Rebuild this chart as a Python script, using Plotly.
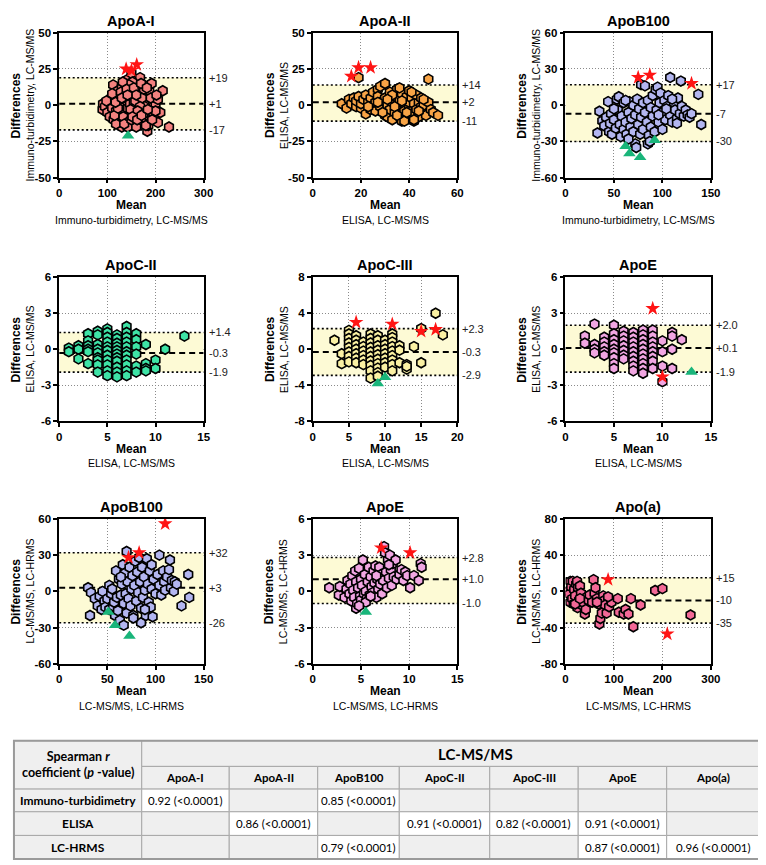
import plotly.graph_objects as go

# ---------------- DATA ----------------
titles = ["ApoA-I", "ApoA-II", "ApoB100", "ApoC-II", "ApoC-III", "ApoE", "ApoB100", "ApoE", "Apo(a)"]
method_labels = ["Immuno-turbidimetry, LC-MS/MS", "ELISA, LC-MS/MS", "Immuno-turbidimetry, LC-MS/MS",
                 "ELISA, LC-MS/MS", "ELISA, LC-MS/MS", "ELISA, LC-MS/MS",
                 "LC-MS/MS, LC-HRMS", "LC-MS/MS, LC-HRMS", "LC-MS/MS, LC-HRMS"]
bias = [1, 2, -7, -0.3, -0.3, 0.1, 3, 1.0, -10]
upper_loa = [19, 14, 17, 1.4, 2.3, 2.0, 32, 2.8, 15]
lower_loa = [-17, -11, -30, -1.9, -2.9, -1.9, -26, -1.0, -35]
bias_text = ["+1", "+2", "-7", "-0.3", "-0.3", "+0.1", "+3", "+1.0", "-10"]
upper_text = ["+19", "+14", "+17", "+1.4", "+2.3", "+2.0", "+32", "+2.8", "+15"]
lower_text = ["-17", "-11", "-30", "-1.9", "-2.9", "-1.9", "-26", "-1.0", "-35"]
x_max = [300, 60, 150, 15, 20, 15, 150, 15, 300]
x_step = [100, 20, 50, 5, 5, 5, 50, 5, 100]
y_max = [50, 50, 60, 6, 8, 6, 60, 6, 80]
y_step = [25, 25, 30, 3, 4, 3, 30, 3, 40]
colors = ["#f4827f", "#f8a446", "#b3b6f0", "#3ee3a6", "#fbf1a3", "#f1a6e2", "#b3b6f0", "#f1a6e2", "#f26896"]

apoa1_pts = [(90,-3),(91,1),(95,-1),(100,-5),(103,2),(105,-8),(108,5),(110,-2),(112,14),(113,-10),(115,8),(118,-4),
             (120,3),(120,-12),(122,10),(125,-6),(125,6),(128,0),(130,-15),(130,12),(132,-3),(135,8),(135,-9),(137,3),
             (138,15),(140,-13),(140,5),(142,-2),(143,18),(145,10),(145,-7),(147,1),(148,-14),(150,22),(150,6),(152,-4),
             (153,13),(155,-10),(155,2),(157,8),(158,-6),(160,17),(160,0),(162,-13),(163,11),(165,4),(165,-8),(168,19),
             (170,-2),(170,9),(172,-11),(175,14),(175,1),(178,-5),(180,7),(180,-9),(183,-18),(185,-14),(185,3),(187,10),
             (190,-3),(192,15),(195,0),(198,-7),(200,1),(205,-12),(210,-5),(215,10),(228,-15),(125,-1),(133,-8),(138,9),
             (146,-11),(152,16),(158,3),(166,13),(172,5),(178,-1),(188,-8),(195,-5),(118,-13),(127,4),(142,-15),
             (160,-15),(168,-1),(176,11),(145,14),(132,16),(110,8),(98,3),(115,-7),(122,-2),(128,9),(135,-13),
             (140,11),(148,-3),(150,-10),(155,12),(160,7),(163,-4),(170,15),(175,-6),(180,-14),(182,12),(190,5),
             (193,-10),(200,-4),(205,4),(117,2),(130,5),(142,7),(152,-8),(162,-10),(171,-7),(184,-3),(202,7)]
apoa1_star = [(139,25),(161,28),(150,24)]
apoa1_tri = [(143,-21)]

apoa2_pts = [(12,1),(14,-2),(15,4),(16,1),(17,5),(18,-1),(18,3),(19,19),(19,6),(20,-2),(20,1),(21,4),(22,-6),(22,7),
             (23,2),(24,-3),(24,5),(25,9),(25,0),(26,-4),(26,2),(27,11),(27,6),(28,-1),(28,13),(29,3),(30,15),(30,-7),
             (30,5),(31,0),(31,-8),(32,9),(32,-3),(33,2),(33,-10),(34,6),(34,-5),(35,11),(35,0),(36,-8),(36,4),(37,-11),
             (37,8),(38,1),(38,-4),(39,6),(39,-9),(40,10),(40,-2),(40,2),(41,-6),(41,5),(42,-11),(42,1),(43,-3),(43,7),
             (44,2),(44,-8),(45,5),(45,-1),(46,0),(47,-7),(48,18),(48,2),(49,-3),(50,-5),(52,-7),(36,12),(29,-5),
             (23,-1),(38,-11),(42,-10),(33,7),(27,2),(31,4),(34,-1),(37,3),(39,-5),(41,9),(44,-4),(46,4),(35,-7)]
apoa2_star = [(16,20),(19,26),(24,26)]
apoa2_tri = []

apob_it_pts = [(33,-23),(35,-5),(38,-13),(40,-17),(42,-10),(44,3),(45,-22),(46,-15),(47,-7),(48,-24),(50,-12),(52,-19),
               (53,5),(54,-4),(55,7),(56,-16),(57,-26),(58,-9),(60,-20),(60,2),(62,-14),(63,-24),(65,-6),(66,3),(67,-18),
               (68,-11),(70,0),(70,-22),(72,-32),(72,-8),(74,5),(75,-16),(76,-3),(77,-24),(78,17),(78,-10),(80,2),(80,-20),
               (82,16),(82,-6),(84,-14),(85,-32),(85,4),(86,-25),(88,-2),(88,-18),(90,8),(90,-9),(92,-22),(93,13),(94,-4),
               (95,15),(96,-14),(97,2),(98,10),(100,-6),(100,-20),(102,4),(103,-12),(105,-1),(106,8),(108,23),(108,-8),
               (110,-14),(112,2),(113,-4),(115,-11),(116,6),(118,-7),(119,20),(120,-1),(122,-9),(124,-4),(126,-8),
               (128,-10),(130,-7),(137,9),(140,-16),(73,-35),(62,4),(87,-30),(96,-8),(104,-3),(110,5),(115,-15),(65,-28),
               (50,-3)]
apob_it_star = [(75,23),(87,25),(130,18)]
apob_it_tri = [(62,-34),(66,-40),(77,-43),(92,-29)]

apoc2_pts = [(1,0.1),(1,-0.2),(2,0.3),(2,0.0),(2,-0.8),
             (3,1.3),(3,0.7),(3,0.3),(3,0.0),(3,-0.2),(3,-1.2),
             (4,1.5),(4,1.2),(4,0.4),(4,0.0),(4,-0.3),(4,-0.7),(4,-0.9),(4,-1.3),(4,-1.9),
             (5,1.7),(5,1.4),(5,1.0),(5,0.6),(5,0.2),(5,-0.1),(5,-0.5),(5,-0.9),(5,-1.3),(5,-1.8),(5,-2.2),
             (6,1.2),(6,0.9),(6,0.5),(6,0.2),(6,-0.1),(6,-0.4),(6,-0.7),(6,-1.0),(6,-1.5),(6,-1.9),(6,-2.3),
             (7,1.9),(7,1.4),(7,1.0),(7,0.6),(7,0.2),(7,-0.2),(7,-0.5),(7,-0.9),(7,-1.3),(7,-1.8),(7,-2.2),
             (8,1.3),(8,0.8),(8,0.2),(8,-0.4),(8,-1.4),(8,-1.9),
             (9,0.4),(9,-1.2),(9,-1.6),(9,-1.8),(10,-0.9),(10,-1.6),(11,0.0),(13,1.1)]
apoc2_star = []
apoc2_tri = []

apoc3_pts = [(3,1.0),(4,-0.5),(4,-1.6),
             (5,2.1),(5,1.7),(5,1.2),(5,0.7),(5,0.2),(5,-0.3),(5,-0.8),(5,-1.4),
             (6,1.5),(6,1.0),(6,0.5),(6,0.0),(6,-0.5),(6,-1.0),(6,-1.5),
             (7,0.8),(7,0.3),(7,-0.2),(7,-0.7),(7,-1.2),(7,-1.7),
             (8,1.7),(8,1.2),(8,0.7),(8,0.2),(8,-0.3),(8,-0.8),(8,-1.3),(8,-1.8),(8,-2.4),(8,-3.2),
             (9,1.5),(9,1.0),(9,0.4),(9,-0.1),(9,-0.6),(9,-1.1),(9,-1.6),(9,-2.1),(9,-2.6),(9,-3.0),
             (10,1.0),(10,0.5),(10,0.0),(10,-0.5),(10,-1.0),(10,-1.5),(10,-2.0),
             (11,1.7),(11,1.3),(11,0.8),(11,0.3),(11,-0.2),(11,-0.7),(11,-1.2),(11,-1.7),(11,-2.4),
             (12,0.4),(12,-0.1),(12,-1.5),(13,-1.7),(13,-2.2),(13,-1.9),(14,0.3),(15,2.3),(15,-1.5),(17,4.0),(18,1.6)]
apoc3_star = [(6,3.0),(11,2.8),(15,2.0),(17,2.2)]
apoc3_tri = [(9,-3.8),(10,-3.1)]

apoe_el_pts = [(2,1.1),(2,0.5),(3,2.1),(3,0.4),(3,0.0),(3,-0.3),
               (4,1.0),(4,0.6),(4,0.2),(4,-0.2),(4,-0.5),
               (5,2.0),(5,1.3),(5,0.8),(5,0.4),(5,0.0),(5,-0.3),(5,-0.7),(5,-1.2),(5,-1.6),
               (6,1.5),(6,1.1),(6,0.7),(6,0.3),(6,-0.1),(6,-0.5),(6,-0.8),
               (7,1.4),(7,1.0),(7,0.6),(7,0.2),(7,-0.2),(7,-0.6),(7,-1.0),(7,-1.4),(7,-1.8),
               (8,1.6),(8,1.2),(8,0.8),(8,0.4),(8,0.0),(8,-0.4),(8,-0.8),(8,-1.2),(8,-1.6),(8,-2.0),
               (9,1.6),(9,1.1),(9,0.6),(9,0.2),(9,-0.2),(9,-0.6),(9,-1.0),(9,-1.6),
               (10,0.7),(10,-0.2),(10,-1.4),(10,-2.7),(11,1.4),(11,1.1),(11,0.0),(11,-1.6),(12,0.8)]
apoe_el_star = [(9,3.4),(10,-2.3)]
apoe_el_tri = [(13,-1.9)]

apob_hr_pts = [(30,3),(32,-20),(33,-1),(37,-6),(40,-12),(42,-4),(44,-15),(45,0),(47,-8),(48,-13),(50,-6),(52,5),
               (52,-15),(54,-2),(55,2),(56,-12),(57,-9),(58,-20),(59,17),(60,-5),(61,-16),(62,10),(63,-24),(64,-3),
               (65,6),(66,22),(67,-28),(67,-10),(68,15),(69,-2),(70,33),(70,-18),(71,8),(72,-6),(73,20),(74,-12),(75,2),
               (76,13),(77,-20),(78,5),(79,25),(80,-8),(81,16),(82,-1),(83,28),(84,8),(85,-26),(85,-14),(86,20),(87,-5),
               (88,12),(89,1),(90,-20),(91,27),(92,6),(93,-9),(94,17),(95,-13),(96,2),(97,-21),(98,10),(100,-2),(102,14),
               (104,30),(104,5),(106,-3),(108,17),(109,8),(110,1),(112,12),(114,18),(115,26),(116,3),(117,9),(119,0),
               (120,8),(122,6),(127,-12),(134,14),(135,-5),(77,-22),(64,12),(89,-15),(96,22)]
apob_hr_star = [(110,56),(72,28),(83,32)]
apob_hr_tri = [(58,-28),(73,-37),(51,-17)]

apoe_hr_pts = [(1.7,0.3),(2.7,-0.3),(2.8,0.4),(3.3,-0.5),(3.5,0.2),(3.6,0.9),(3.8,-0.2),(3.9,0.6),(4.0,-0.8),
               (4.1,1.3),(4.2,0.1),(4.3,-0.5),(4.4,1.7),(4.5,-1.4),(4.5,0.8),(4.6,-1.0),(4.7,0.3),(4.8,1.9),(4.9,-0.4),
               (5.0,1.0),(5.0,-0.7),(5.1,0.5),(5.2,2.6),(5.3,-0.2),(5.4,1.4),(5.5,0.0),(5.6,-0.6),(5.7,0.8),(5.8,2.0),
               (5.9,-0.3),(6.0,1.2),(6.1,0.4),(6.2,-0.1),(6.3,1.7),(6.4,0.7),(6.5,2.1),(6.6,-0.5),(6.7,1.0),(6.8,0.2),
               (6.9,2.0),(7.0,0.6),(7.1,1.4),(7.2,-0.2),(7.3,0.9),(7.4,3.7),(7.5,3.2),(7.6,1.6),(7.7,0.3),(7.8,2.6),
               (7.9,1.1),(8.0,3.0),(8.1,1.8),(8.2,0.5),(8.3,2.3),(8.4,1.2),(8.6,2.6),(8.7,1.0),(9.0,1.4),(9.2,1.8),
               (9.4,0.9),(9.6,1.6),(9.8,1.3),(10.1,0.3),(10.5,1.3),(11.0,0.9),(11.2,2.3),(11.3,2.0),(5.5,-0.9),
               (6.0,-0.4),(4.8,-1.2),(6.6,1.3),(7.9,2.2)]
apoe_hr_star = [(7.1,3.6),(10.1,3.2)]
apoe_hr_tri = [(5.5,-1.7)]

apoa_pts = [(5,0),(8,-3),(10,11),(10,-12),(12,5),(14,-8),(15,11),(17,-14),(18,2),(20,-5),(22,8),(24,11),(25,-18),
            (26,4),(28,-10),(30,6),(32,-2),(34,-15),(36,-12),(40,-25),(42,-20),(45,-6),(48,-10),(50,-4),(55,-12),
            (58,13),(60,-2),(62,4),(65,-8),(68,-14),(70,-36),(72,-30),(75,-24),(78,-5),(80,-10),(82,-15),(85,-24),
            (90,-17),(95,-12),(108,-8),(110,-23),(120,-25),(124,-20),(130,-25),(135,-8),(140,-39),(155,-15),(185,1),
            (200,3),(258,-26),(20,-14),(30,-8),(65,-12),(88,-6)]
apoa_star = [(88,13),(210,-47)]
apoa_tri = []

table_methods = ["Immuno-turbidimetry", "ELISA", "LC-HRMS"]
table_proteins = ["ApoA-I", "ApoA-II", "ApoB100", "ApoC-II", "ApoC-III", "ApoE", "Apo(a)"]
immuno_r = ["0.92 (<0.0001)", "", "0.85 (<0.0001)", "", "", "", ""]
elisa_r = ["", "0.86 (<0.0001)", "", "0.91 (<0.0001)", "0.82 (<0.0001)", "0.91 (<0.0001)", ""]
hrms_r = ["", "", "0.79 (<0.0001)", "", "", "0.87 (<0.0001)", "0.96 (<0.0001)"]

# ---------------- LAYOUT ----------------
W, H = 766, 865
FONT = "Liberation Sans"
TFONT = "Lato"
col_px = [(49, 196), (307, 454), (564, 712)]
row_px = [(19, 166), (267, 413), (512, 659)]

points = [apoa1_pts, apoa2_pts, apob_it_pts, apoc2_pts, apoc3_pts, apoe_el_pts, apob_hr_pts, apoe_hr_pts, apoa_pts]
stars = [apoa1_star, apoa2_star, apob_it_star, apoc2_star, apoc3_star, apoe_el_star, apob_hr_star, apoe_hr_star, apoa_star]
tris = [apoa1_tri, apoa2_tri, apob_it_tri, apoc2_tri, apoc3_tri, apoe_el_tri, apob_hr_tri, apoe_hr_tri, apoa_tri]


def axn(n, letter):
    return letter if n == 1 else f"{letter}{n}"


fig = go.Figure()
layout = {}
shapes = []
annotations = []

for i in range(9):
    n = i + 1
    r, c = divmod(i, 3)
    xa, ya = axn(n, "x"), axn(n, "y")
    px = [p[0] for p in points[i]]
    py = [p[1] for p in points[i]]
    fig.add_trace(go.Scatter(x=px, y=py, mode="markers", xaxis=xa, yaxis=ya, showlegend=False, hoverinfo="skip",
                             marker=dict(symbol="hexagon", size=10, color=colors[i],
                                         line=dict(color="black", width=1.6))))
    if stars[i]:
        fig.add_trace(go.Scatter(x=[p[0] for p in stars[i]], y=[p[1] for p in stars[i]], mode="markers",
                                 xaxis=xa, yaxis=ya, showlegend=False, hoverinfo="skip",
                                 marker=dict(symbol="star", size=11, color="#ff1414", line=dict(width=0))))
    if tris[i]:
        fig.add_trace(go.Scatter(x=[p[0] for p in tris[i]], y=[p[1] for p in tris[i]], mode="markers",
                                 xaxis=xa, yaxis=ya, showlegend=False, hoverinfo="skip",
                                 marker=dict(symbol="triangle-up", size=11, color="#19b57a", line=dict(width=0))))

    x0, x1 = col_px[c]
    t0, b0 = row_px[r]
    common = dict(showline=True, linecolor="black", linewidth=1.5, mirror=True, ticks="outside", ticklen=4,
                  tickwidth=1.5, tickcolor="black", showgrid=True, gridcolor="#8a8a8a", griddash="1px,2px",
                  gridwidth=1, zeroline=False, fixedrange=True,
                  tickfont=dict(family=FONT, size=11.5, color="black", weight="bold"))
    xt = [k * x_step[i] for k in range(int(round(x_max[i] / x_step[i])) + 1)]
    nyt = int(round(y_max[i] / y_step[i]))
    yt = [k * y_step[i] for k in range(-nyt, nyt + 1)]
    layout["xaxis" + ("" if n == 1 else str(n))] = dict(domain=[x0 / W, x1 / W], anchor=ya,
                                                         range=[0, x_max[i]], tickmode="array", tickvals=xt,
                                                         ticktext=[f"{v:g}" for v in xt], **common)
    layout["yaxis" + ("" if n == 1 else str(n))] = dict(domain=[1 - b0 / H, 1 - t0 / H], anchor=xa,
                                                         range=[-y_max[i], y_max[i]], tickmode="array", tickvals=yt,
                                                         ticktext=[f"{v:g}" for v in yt], **common)
    xd = f"{xa} domain"
    yd = f"{ya} domain"
    # band and lines (drawn over the grid, under the markers)
    shapes.append(dict(type="rect", xref=xa, yref=ya, x0=0, x1=x_max[i], y0=lower_loa[i], y1=upper_loa[i],
                       fillcolor="#fdfad5", line=dict(width=0), layer="between"))
    for val in (upper_loa[i], lower_loa[i]):
        shapes.append(dict(type="line", xref=xa, yref=ya, x0=0, x1=x_max[i], y0=val, y1=val,
                           line=dict(color="black", width=1.6, dash="2px,2.5px"), layer="between"))
    shapes.append(dict(type="line", xref=xa, yref=ya, x0=0, x1=x_max[i], y0=bias[i], y1=bias[i],
                       line=dict(color="black", width=2, dash="6px,4px"), layer="between"))
    for val, txt in ((upper_loa[i], upper_text[i]), (bias[i], bias_text[i]), (lower_loa[i], lower_text[i])):
        annotations.append(dict(xref=xd, yref=ya, x=1, y=val, xanchor="left", yanchor="middle", xshift=3,
                                text=txt, showarrow=False, font=dict(family=FONT, size=11, color="#222222")))
    # title
    annotations.append(dict(xref=xd, yref=yd, x=0.5, y=1, yshift=12, xanchor="center", yanchor="middle",
                            text=titles[i], showarrow=False,
                            font=dict(family=FONT, size=14.5, color="black", weight="bold")))
    # x titles
    annotations.append(dict(xref=xd, yref=yd, x=0.5, y=0, yshift=-27.5, xanchor="center", yanchor="middle",
                            text="Mean", showarrow=False, borderpad=0,
                            font=dict(family=FONT, size=12, color="black", weight="bold")))
    annotations.append(dict(xref=xd, yref=yd, x=0.5, y=0, yshift=-42, xanchor="center", yanchor="middle",
                            text=method_labels[i], showarrow=False, borderpad=0,
                            font=dict(family=FONT, size=10.5, color="black")))
    # y titles
    annotations.append(dict(xref=xd, yref=yd, x=0, y=0.5, xshift=-43, xanchor="center", yanchor="middle",
                            textangle=-90, text="Differences", showarrow=False,
                            font=dict(family=FONT, size=12, color="black", weight="bold")))
    annotations.append(dict(xref=xd, yref=yd, x=0, y=0.5, xshift=-29, xanchor="center", yanchor="middle",
                            textangle=-90, text=method_labels[i], showarrow=False,
                            font=dict(family=FONT, size=10.5, color="black")))

# ---------------- TABLE ----------------
col_edges = [3, 133, 222, 312, 395, 487, 577, 667, 762]
row_edges = [737, 763, 786, 809, 833, 857]
GRAY = "#efefef"
BORDER = "#a8a8a8"


def cell(cx0, cx1, ry0, ry1, fill, text="", bold=False, size=11.5, xc=None):
    shapes.append(dict(type="rect", xref="paper", yref="paper",
                       x0=col_edges[cx0] / W, x1=col_edges[cx1] / W,
                       y0=1 - row_edges[ry1] / H, y1=1 - row_edges[ry0] / H,
                       fillcolor=fill, line=dict(color=BORDER, width=1), layer="below"))
    if text:
        xm = ((col_edges[cx0] + col_edges[cx1]) / 2 if xc is None else xc) / W
        ym = 1 - (row_edges[ry0] + row_edges[ry1]) / 2 / H
        annotations.append(dict(xref="paper", yref="paper", x=xm, y=ym, xanchor="center", yanchor="middle",
                                text=text, showarrow=False,
                                font=dict(family=TFONT, size=size, color="black",
                                          weight="bold" if bold else "normal")))


cell(0, 1, 0, 2, GRAY, "Spearman <i>r</i><br>coefficient (<i>p</i> -value)", bold=True, size=12.5)
cell(1, 8, 0, 1, GRAY, "LC-MS/MS", bold=True, size=15, xc=473)
for j, p in enumerate(table_proteins):
    cell(j + 1, j + 2, 1, 2, GRAY, p, bold=True, size=11.5)
for k, (m, vals) in enumerate(zip(table_methods, [immuno_r, elisa_r, hrms_r])):
    cell(0, 1, 2 + k, 3 + k, GRAY, m, bold=True, size=12)
    for j, v in enumerate(vals):
        cell(j + 1, j + 2, 2 + k, 3 + k, "white" if v else GRAY, v, size=11.5)
# outer border
shapes.append(dict(type="rect", xref="paper", yref="paper", x0=col_edges[0] / W, x1=col_edges[-1] / W,
                   y0=1 - row_edges[-1] / H, y1=1 - row_edges[0] / H, line=dict(color="#9a9a9a", width=2),
                   fillcolor="rgba(0,0,0,0)", layer="below"))

fig.update_layout(width=W, height=H, margin=dict(l=0, r=0, t=0, b=0), paper_bgcolor="white",
                  plot_bgcolor="white", showlegend=False, shapes=shapes, annotations=annotations, **layout)
fig.write_html("out.html")
